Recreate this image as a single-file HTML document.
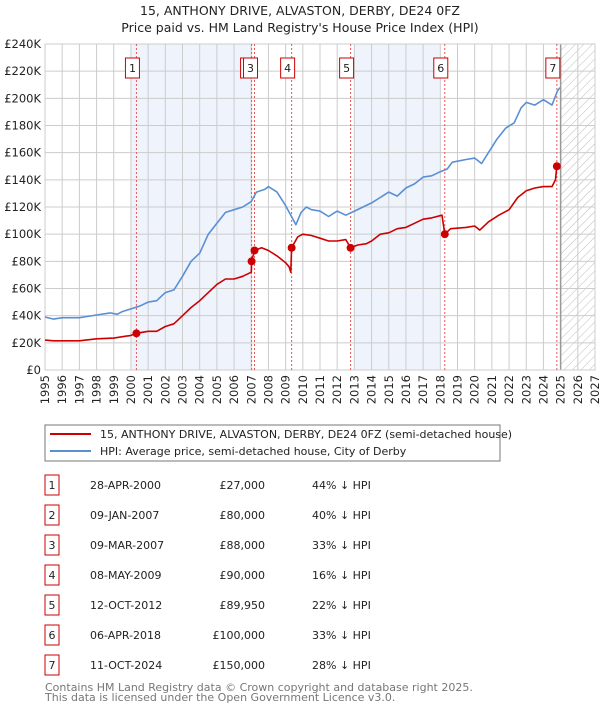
<!DOCTYPE html>
<html><head><meta charset="utf-8"><style>
body{margin:0;background:#fff;font-family:"Liberation Sans","DejaVu Sans",sans-serif;}
svg text{font-family:"DejaVu Sans","Liberation Sans",sans-serif;}
</style></head><body>
<svg id="c" width="600" height="710" xmlns="http://www.w3.org/2000/svg">
<defs><pattern id="hatch" width="6" height="6" patternUnits="userSpaceOnUse" patternTransform="rotate(45)"><line x1="0" y1="0" x2="0" y2="6" stroke="#bbb" stroke-width="1"/></pattern></defs>
<text x="300" y="15" text-anchor="middle" font-size="12.5" fill="#222">15, ANTHONY DRIVE, ALVASTON, DERBY, DE24 0FZ</text>
<text x="300" y="32" text-anchor="middle" font-size="12.5" fill="#222">Price paid vs. HM Land Registry's House Price Index (HPI)</text>
<g id="plot"></g>
<rect x="45" y="425" width="455" height="36" fill="#fff" stroke="#777"/>
<line x1="50" y1="434" x2="91" y2="434" stroke="#cc0000" stroke-width="2"/>
<text x="100" y="438" font-size="11" fill="#222">15, ANTHONY DRIVE, ALVASTON, DERBY, DE24 0FZ (semi-detached house)</text>
<line x1="50" y1="451" x2="91" y2="451" stroke="#5b8fd4" stroke-width="2"/>
<text x="100" y="455" font-size="11" fill="#222">HPI: Average price, semi-detached house, City of Derby</text>
<g id="table"></g>
<text x="45" y="691" font-size="11" fill="#777">Contains HM Land Registry data © Crown copyright and database right 2025.</text>
<text x="45" y="701" font-size="11" fill="#777">This data is licensed under the Open Government Licence v3.0.</text>
</svg>
<script>
const hpiT=[1995,1995.5,1996,1997,1998,1998.8,1999.2,1999.5,2000,2000.5,2001,2001.5,2002,2002.5,2003,2003.5,2004,2004.5,2005,2005.5,2006,2006.5,2007,2007.3,2007.8,2008,2008.5,2009,2009.3,2009.6,2009.9,2010.2,2010.5,2011,2011.5,2012,2012.5,2013,2013.5,2014,2014.5,2015,2015.5,2016,2016.5,2017,2017.5,2018,2018.4,2018.7,2019.5,2020,2020.4,2020.8,2021.3,2021.8,2022.3,2022.7,2023,2023.5,2024,2024.5,2024.8,2024.95];
const hpiV=[39,37.5,38.5,38.5,40.5,42,41,43,45,47,50,51,57,59,69,80,86,100,108,116,118,120,124,131,133,135,131,121,114,107,116,120,118,117,113,117,114,117,120,123,127,131,128,134,137,142,143,146,148,153,155,156,152,160,170,178,182,193,197,195,199,195,205,208];
const redT=[1995,1995.5,1996,1997,1998,1999,2000,2000.32,2001,2001.5,2002,2002.5,2003,2003.5,2004,2004.5,2005,2005.5,2006,2006.5,2007,2007.02,2007.19,2007.6,2008,2008.5,2009,2009.2,2009.3,2009.35,2009.7,2010,2010.5,2011,2011.5,2012,2012.5,2012.78,2013.2,2013.7,2014,2014.5,2015,2015.5,2016,2016.5,2017,2017.5,2018.1,2018.26,2018.6,2019.5,2020,2020.3,2020.8,2021.4,2022,2022.5,2023,2023.5,2024,2024.5,2024.7,2024.78,2024.95];
const redV=[22,21.5,21.5,21.5,23,23.5,25.5,27,28.5,28.5,32,34,40,46,51,57,63,67,67,69,72,80,88,90,88,84,79,76,72,90,98,100,99,97,95,95,96,89.95,92,93,95,100,101,104,105,108,111,112,114,100,104,105,106,103,109,114,118,127,132,134,135,135,140,150,151];
const saleT=[2000.32,2007.02,2007.19,2009.35,2012.78,2018.26,2024.78];
const saleV=[27,80,88,90,89.95,100,150];
const saleLabels=["1","2","3","4","5","6","7"];
const saleDates=["28-APR-2000","09-JAN-2007","09-MAR-2007","08-MAY-2009","12-OCT-2012","06-APR-2018","11-OCT-2024"];
const salePrices=["£27,000","£80,000","£88,000","£90,000","£89,950","£100,000","£150,000"];
const saleDiffs=["44% ↓ HPI","40% ↓ HPI","33% ↓ HPI","16% ↓ HPI","22% ↓ HPI","33% ↓ HPI","28% ↓ HPI"];
const yTicks=[0,20,40,60,80,100,120,140,160,180,200,220,240];
const xYears=[1995,1996,1997,1998,1999,2000,2001,2002,2003,2004,2005,2006,2007,2008,2009,2010,2011,2012,2013,2014,2015,2016,2017,2018,2019,2020,2021,2022,2023,2024,2025,2026,2027];
const shadeBands=[[2000,2007],[2013,2018]];

const X0=45,X1=595,Y0=370,Y1=44;
const sx=t=>X0+(t-1995)/(2027-1995)*(X1-X0);
const sy=v=>Y0-v/240*(Y0-Y1);
const NS="http://www.w3.org/2000/svg";
const g=document.getElementById('plot');
function mk(tag,attrs,parent){const e=document.createElementNS(NS,tag);for(const k in attrs)e.setAttribute(k,attrs[k]);(parent||g).appendChild(e);return e;}

shadeBands.forEach(b=>{
  const r=mk('rect',{x:sx(b[0]),y:Y1,width:sx(b[1])-sx(b[0]),height:Y0-Y1,fill:'#eef3fc'});
  
  
});
const h=mk('rect',{x:sx(2025),y:Y1,width:X1-sx(2025),height:Y0-Y1,fill:'url(#hatch)'});


yTicks.forEach(v=>{
  const l=mk('line',{x1:X0,x2:X1,y1:sy(v),y2:sy(v),stroke:'#ccc','stroke-width':1});
  
  
  const t=mk('text',{x:X0-4,y:sy(v)+4,'text-anchor':'end','font-size':11.5,fill:'#222'});
  t.textContent=v===0?'£0':'£'+v+'K';
  
  
});
xYears.forEach(y=>{
  const l=mk('line',{x1:sx(y),x2:sx(y),y1:Y1,y2:Y0,stroke:'#ccc','stroke-width':1});
  
  
  const t=mk('text',{x:0,y:0,'text-anchor':'end','font-size':11.5,fill:'#222',transform:`translate(${sx(y)+4},375) rotate(-90)`});
  t.textContent=y;
  
  
});
const nl=mk('line',{x1:sx(2025),x2:sx(2025),y1:Y1,y2:Y0,stroke:'#999','stroke-width':1.5});


const fr=mk('rect',{x:X0,y:Y1,width:X1-X0,height:Y0-Y1,fill:'none',stroke:'#ccc'});


saleT.forEach((t,i)=>{
  const l=mk('line',{x1:sx(t),x2:sx(t),y1:Y1,y2:Y0,stroke:'#e55','stroke-width':1,'stroke-dasharray':'2,2'});
  
  
});
function path(T,V,color,name){
  const d=T.map((t,i)=>(i?'L':'M')+sx(t).toFixed(1)+','+sy(V[i]).toFixed(1)).join('');
  const p=mk('path',{d:d,fill:'none',stroke:color,'stroke-width':1.6,'stroke-linejoin':'round'});
  
  
}
path(hpiT,hpiV,'#5b8fd4','hpi-line');
path(redT,redV,'#cc0000','price-paid-line');
saleT.forEach((t,i)=>{
  const c=mk('circle',{cx:sx(t),cy:sy(saleV[i]),r:4,fill:'#cc0000'});
  
  
  const bx=sx(t)-11;
  const r=mk('rect',{x:bx,y:58,width:14,height:20,fill:'#fff',stroke:'#cc0000'});
  
  
  const tx=mk('text',{x:bx+7,y:72,'text-anchor':'middle','font-size':11,fill:'#222'});
  tx.textContent=saleLabels[i];
  
  
});
const tb=document.getElementById('table');
saleLabels.forEach((s,i)=>{
  const y=485+i*30;
  const r=mk('rect',{x:45,y:y-10,width:14,height:20,fill:'#fff',stroke:'#cc0000'},tb);
  
  
  const cells=[[52,'middle',s],[158,'end',saleDates[i]],[265,'end',salePrices[i]],[312,'start',saleDiffs[i]]];
  cells.forEach((c,j)=>{
    const t=mk('text',{x:j==1?90:c[0],y:y+4,'text-anchor':j==1?'start':c[1],'font-size':11,fill:'#222'},tb);
    t.textContent=c[2];
    
    
  });
});
</script>
</body></html>
